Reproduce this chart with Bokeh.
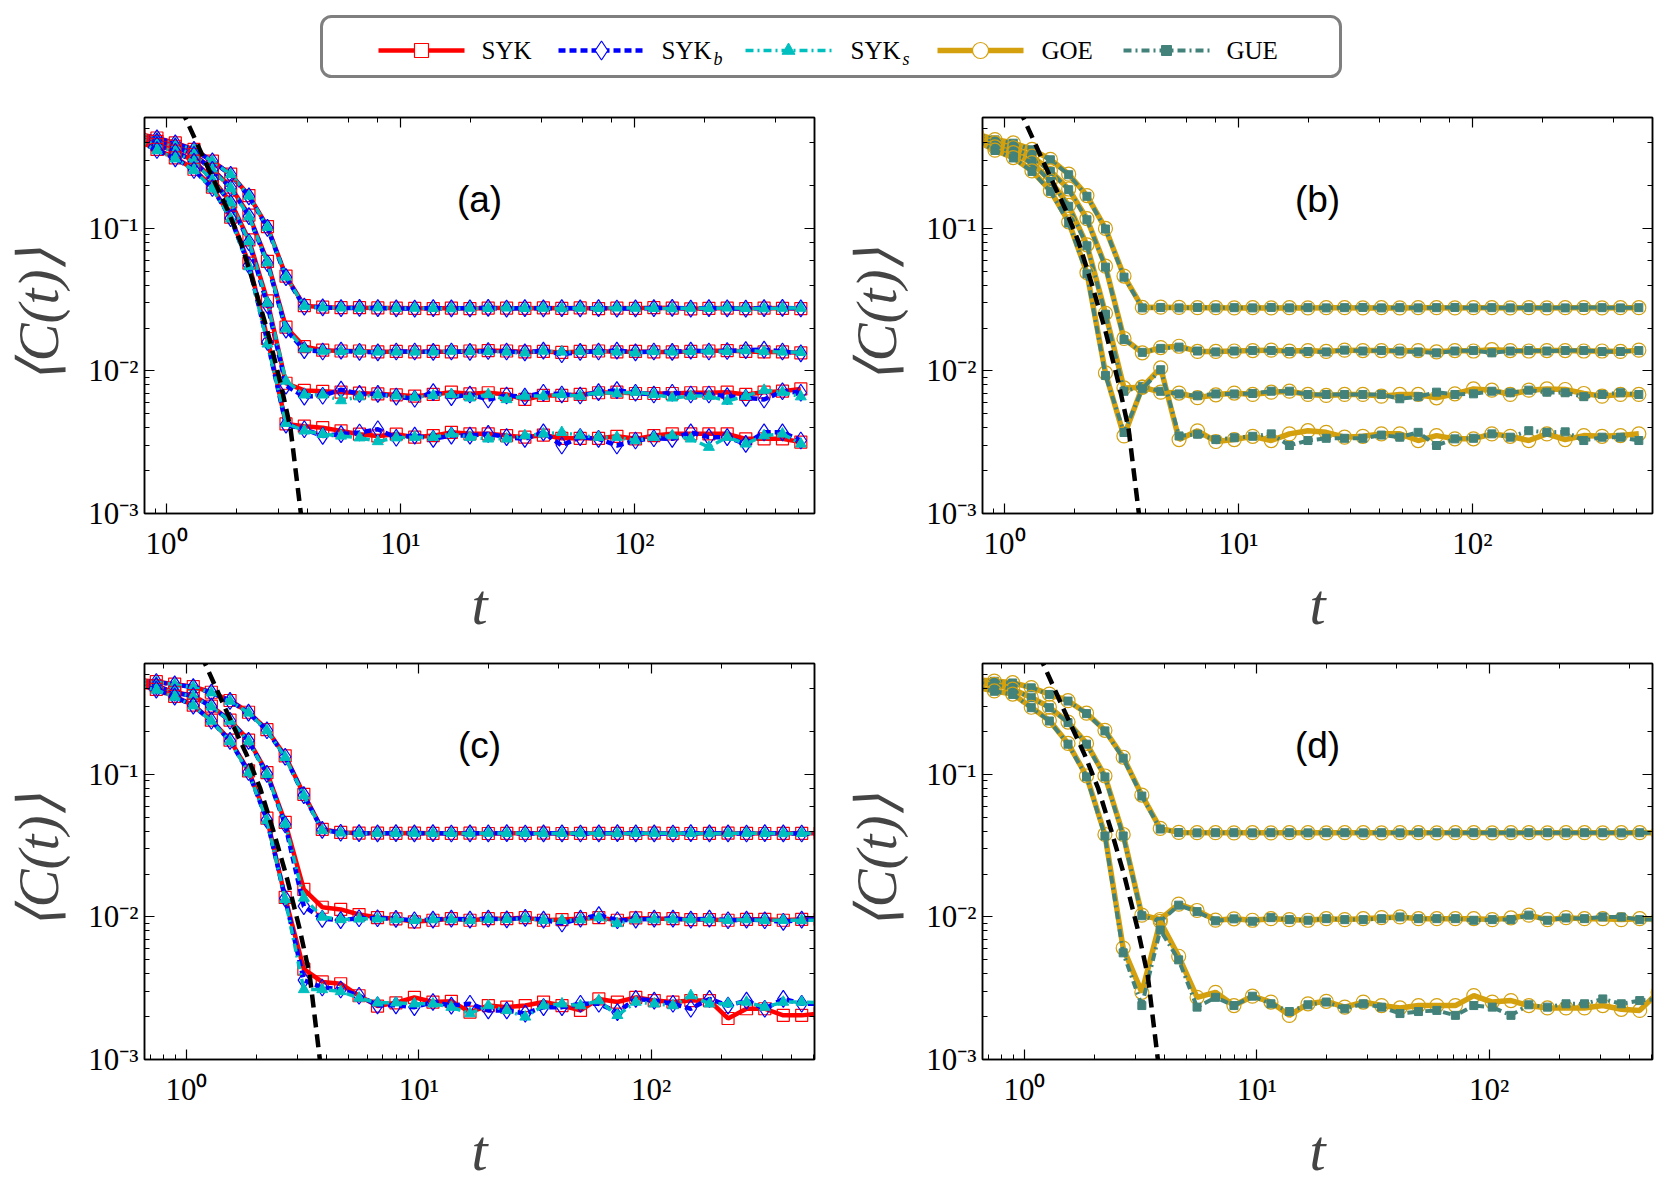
import numpy as np
from bokeh.plotting import figure
from bokeh.models import Range1d, LogAxis, CustomJSTickFormatter, Label, BoxAnnotation
from bokeh.layouts import column, row
from bokeh.embed import file_html
from bokeh.resources import INLINE

# ---------------- data ----------------
T_AB = [0.76, 0.91, 1.09, 1.31, 1.57, 1.88, 2.25, 2.70, 3.24, 3.88, 4.65, 5.57, 6.68, 8.00, 9.59,
        11.5, 13.8, 16.5, 19.8, 23.7, 28.4, 34.0, 40.8, 48.9, 58.6, 70.2, 84.1, 101, 121, 145,
        174, 208, 249, 299, 358, 429, 514]
T_CD = [0.62, 0.742, 0.89, 1.07, 1.28, 1.54, 1.85, 2.22, 2.66, 3.20, 3.84, 4.61, 5.53, 6.64, 7.97,
        9.57, 11.5, 13.8, 16.6, 19.9, 23.9, 28.7, 34.4, 41.3, 49.6, 59.5, 71.5, 85.8, 103, 124,
        148, 178, 214, 257, 308, 370, 444, 533]

# panel (a): SYK, SYK_b, SYK_s for four system sizes
A1_SYK = [0.46, 0.431, 0.398, 0.358, 0.297, 0.240, 0.170, 0.103, 0.0463, 0.0287, 0.0280, 0.0278, 0.0278, 0.0277, 0.0276,
          0.0275, 0.0274, 0.0276, 0.0274, 0.0276, 0.0276, 0.0275, 0.0277, 0.0275, 0.0277, 0.0274, 0.0276, 0.0275, 0.0278,
          0.0276, 0.0273, 0.0275, 0.0276, 0.0274, 0.0276, 0.0275, 0.0274]
A1_SYKB = [0.46, 0.428, 0.396, 0.356, 0.296, 0.238, 0.168, 0.101, 0.0455, 0.0283, 0.0279, 0.0276, 0.0277, 0.0276, 0.0275,
           0.0274, 0.0276, 0.0275, 0.0275, 0.0277, 0.0274, 0.0276, 0.0275, 0.0276, 0.0275, 0.0276, 0.0274, 0.0275, 0.0276,
           0.0277, 0.0274, 0.0276, 0.0275, 0.0274, 0.0276, 0.0277, 0.0275]
A1_SYKS = [0.46, 0.425, 0.394, 0.355, 0.295, 0.239, 0.169, 0.102, 0.0458, 0.0285, 0.0278, 0.0277, 0.0276, 0.0278, 0.0275,
           0.0276, 0.0275, 0.0274, 0.0276, 0.0275, 0.0277, 0.0275, 0.0276, 0.0274, 0.0276, 0.0275, 0.0277, 0.0276, 0.0275,
           0.0274, 0.0276, 0.0275, 0.0277, 0.0275, 0.0274, 0.0276, 0.0276]
A2_SYK = [0.445, 0.408, 0.377, 0.330, 0.260, 0.195, 0.124, 0.0587, 0.0203, 0.0148, 0.0140, 0.0138, 0.0138, 0.0136, 0.0137,
          0.0136, 0.0137, 0.0136, 0.0138, 0.0139, 0.0138, 0.0136, 0.0137, 0.0135, 0.0137, 0.0138, 0.0136, 0.0137, 0.0136,
          0.0136, 0.0137, 0.0138, 0.0139, 0.0137, 0.0136, 0.0136, 0.0134]
A2_SYKB = [0.445, 0.405, 0.374, 0.328, 0.258, 0.193, 0.122, 0.0570, 0.0195, 0.0140, 0.0137, 0.0139, 0.0136, 0.0135, 0.0137,
           0.0137, 0.0136, 0.0137, 0.0136, 0.0138, 0.0137, 0.0135, 0.0139, 0.0131, 0.0136, 0.0137, 0.0139, 0.0135, 0.0137,
           0.0136, 0.0139, 0.0137, 0.0138, 0.0140, 0.0141, 0.0137, 0.0133]
A2_SYKS = [0.445, 0.403, 0.372, 0.327, 0.257, 0.192, 0.121, 0.0575, 0.0198, 0.0143, 0.0138, 0.0137, 0.0138, 0.0136, 0.0136,
           0.0136, 0.0136, 0.0138, 0.0137, 0.0137, 0.0136, 0.0134, 0.0138, 0.0136, 0.0137, 0.0137, 0.0136, 0.0134, 0.0137,
           0.0136, 0.0137, 0.0138, 0.0137, 0.0139, 0.0137, 0.0136, 0.0135]
A3_SYK = [0.43, 0.387, 0.348, 0.297, 0.222, 0.153, 0.083, 0.031, 0.0082, 0.0073, 0.0072, 0.0071, 0.0070, 0.0069, 0.0068,
          0.00666, 0.00684, 0.00710, 0.00691, 0.00703, 0.00684, 0.00631, 0.00673, 0.00673, 0.00684, 0.00703, 0.00710,
          0.00695, 0.00695, 0.00695, 0.00703, 0.00703, 0.00710, 0.00684, 0.00710, 0.00721, 0.00748]
A3_SYKB = [0.43, 0.384, 0.345, 0.294, 0.220, 0.150, 0.080, 0.029, 0.0079, 0.0066, 0.0067, 0.0074, 0.0069, 0.0069, 0.0066,
           0.00638, 0.00710, 0.00655, 0.00684, 0.00631, 0.00673, 0.00660, 0.00703, 0.00684, 0.00673, 0.00710, 0.00733,
           0.00703, 0.00684, 0.00703, 0.00684, 0.00684, 0.00666, 0.00648, 0.00631, 0.00721, 0.00703]
A3_SYKS = [0.43, 0.382, 0.343, 0.292, 0.219, 0.151, 0.081, 0.030, 0.0085, 0.0068, 0.0068, 0.0062, 0.0066, 0.0068, 0.0067,
           0.00655, 0.00673, 0.00684, 0.00648, 0.00684, 0.00631, 0.00666, 0.00666, 0.00684, 0.00666, 0.00710, 0.00695,
           0.00710, 0.00684, 0.00648, 0.00666, 0.00666, 0.00615, 0.00666, 0.00733, 0.00710, 0.00660]
A4_SYK = [0.41, 0.358, 0.313, 0.260, 0.195, 0.120, 0.057, 0.0169, 0.00425, 0.0041, 0.0040, 0.0038, 0.0036, 0.0035, 0.0036,
          0.00343, 0.00352, 0.00371, 0.00362, 0.00362, 0.00352, 0.00343, 0.00355, 0.00337, 0.00337, 0.00337, 0.00348,
          0.00334, 0.00352, 0.00362, 0.00362, 0.00362, 0.00362, 0.00334, 0.00334, 0.00334, 0.00317]
A4_SYKB = [0.41, 0.355, 0.310, 0.257, 0.192, 0.118, 0.055, 0.0160, 0.0042, 0.0039, 0.0035, 0.0036, 0.0037, 0.0039, 0.0034,
           0.00352, 0.00334, 0.00352, 0.00352, 0.00362, 0.00343, 0.00334, 0.00371, 0.00300, 0.00343, 0.00334, 0.00300,
           0.00325, 0.00337, 0.00334, 0.00371, 0.00343, 0.00343, 0.00308, 0.00371, 0.00371, 0.00325]
A4_SYKS = [0.41, 0.352, 0.308, 0.256, 0.190, 0.117, 0.054, 0.0155, 0.0043, 0.0038, 0.0036, 0.0035, 0.0034, 0.0032, 0.0034,
           0.00343, 0.00343, 0.00362, 0.00343, 0.00334, 0.00334, 0.00352, 0.00362, 0.00371, 0.00352, 0.00343, 0.00343,
           0.00325, 0.00343, 0.00352, 0.00334, 0.00292, 0.00343, 0.00308, 0.00352, 0.00362, 0.00308]

# panel (b): GOE, GUE
B1_GOE = [0.46, 0.420, 0.398, 0.358, 0.305, 0.240, 0.170, 0.100, 0.0463, 0.0279, 0.0280, 0.0279, 0.0278, 0.0278, 0.0277,
          0.0278, 0.0277, 0.0278, 0.0277, 0.0278, 0.0278, 0.0277, 0.0278, 0.0277, 0.0278, 0.0278, 0.0277, 0.0278, 0.0278,
          0.0277, 0.0278, 0.0277, 0.0278, 0.0278, 0.0277, 0.0278, 0.0278]
B1_GUE = [0.46, 0.418, 0.396, 0.356, 0.303, 0.238, 0.168, 0.099, 0.0455, 0.0277, 0.0279, 0.0277, 0.0279, 0.0277, 0.0278,
          0.0277, 0.0279, 0.0277, 0.0278, 0.0277, 0.0278, 0.0279, 0.0277, 0.0278, 0.0277, 0.0278, 0.0279, 0.0277, 0.0278,
          0.0277, 0.0278, 0.0278, 0.0277, 0.0279, 0.0278, 0.0277, 0.0278]
B2_GOE = [0.445, 0.398, 0.368, 0.322, 0.253, 0.189, 0.117, 0.0543, 0.0169, 0.0134, 0.0146, 0.0149, 0.0137, 0.0137, 0.0138,
          0.0139, 0.0140, 0.0138, 0.0139, 0.0137, 0.0140, 0.0139, 0.0139, 0.0138, 0.0139, 0.0136, 0.0139, 0.0138, 0.0141,
          0.0139, 0.0138, 0.0139, 0.0139, 0.0138, 0.0138, 0.0137, 0.0140]
B2_GUE = [0.445, 0.396, 0.366, 0.320, 0.251, 0.187, 0.115, 0.0535, 0.0166, 0.0135, 0.0144, 0.0147, 0.0138, 0.0136, 0.0138,
          0.0139, 0.0139, 0.0137, 0.0137, 0.0136, 0.0140, 0.0138, 0.0139, 0.0138, 0.0136, 0.0134, 0.0138, 0.0139, 0.0134,
          0.0138, 0.0139, 0.0138, 0.0139, 0.0139, 0.0137, 0.0137, 0.0139]
B3_GOE = [0.43, 0.373, 0.340, 0.289, 0.216, 0.145, 0.0767, 0.0254, 0.0076, 0.0077, 0.0071, 0.0070, 0.0065, 0.0068, 0.0070,
          0.00684, 0.00710, 0.00721, 0.00684, 0.00673, 0.00684, 0.00684, 0.00666, 0.00684, 0.00684, 0.00648, 0.00691,
          0.00748, 0.00733, 0.00684, 0.00733, 0.00748, 0.00741, 0.00695, 0.00666, 0.00684, 0.00684]
B3_GUE = [0.43, 0.371, 0.338, 0.287, 0.214, 0.143, 0.0755, 0.0250, 0.0072, 0.0078, 0.0072, 0.0069, 0.0067, 0.0069, 0.0069,
          0.00695, 0.00721, 0.00721, 0.00684, 0.00684, 0.00684, 0.00684, 0.00684, 0.00638, 0.00660, 0.00710, 0.00684,
          0.00691, 0.00721, 0.00703, 0.00733, 0.00710, 0.00703, 0.00660, 0.00684, 0.00703, 0.00684]
B4_GOE = [0.41, 0.354, 0.314, 0.253, 0.184, 0.111, 0.0489, 0.00968, 0.0035, 0.0077, 0.0105, 0.0033, 0.0038, 0.0032, 0.0033,
          0.00348, 0.00325, 0.00362, 0.00381, 0.00371, 0.00343, 0.00348, 0.00362, 0.00362, 0.00325, 0.00352, 0.00334,
          0.00334, 0.00362, 0.00348, 0.00325, 0.00362, 0.00330, 0.00352, 0.00348, 0.00352, 0.00362]
B4_GUE = [0.41, 0.352, 0.312, 0.251, 0.182, 0.109, 0.0480, 0.0093, 0.0037, 0.0075, 0.0102, 0.0035, 0.0036, 0.0033, 0.0034,
          0.00348, 0.00362, 0.00300, 0.00325, 0.00337, 0.00337, 0.00337, 0.00355, 0.00343, 0.00371, 0.00300, 0.00334,
          0.00337, 0.00362, 0.00343, 0.00381, 0.00371, 0.00374, 0.00325, 0.00343, 0.00343, 0.00325]

# panel (c): SYK, SYK_b, SYK_s for three system sizes
C1_SYK = [0.46, 0.447, 0.430, 0.413, 0.377, 0.330, 0.273, 0.206, 0.135, 0.0725, 0.0412, 0.0392, 0.0388, 0.0387, 0.0386,
          0.0388, 0.0386, 0.0386, 0.0387, 0.0385, 0.0386, 0.0386, 0.0387, 0.0385, 0.0386, 0.0386, 0.0386, 0.0385, 0.0387,
          0.0386, 0.0385, 0.0386, 0.0387, 0.0386, 0.0385, 0.0386, 0.0386, 0.0386]
C1_SYKB = [0.46, 0.445, 0.428, 0.410, 0.375, 0.328, 0.271, 0.204, 0.133, 0.0715, 0.0408, 0.0390, 0.0387, 0.0386, 0.0387,
           0.0386, 0.0387, 0.0385, 0.0386, 0.0386, 0.0387, 0.0385, 0.0386, 0.0386, 0.0385, 0.0386, 0.0387, 0.0386, 0.0386,
           0.0385, 0.0387, 0.0386, 0.0386, 0.0385, 0.0387, 0.0386, 0.0385, 0.0386]
C1_SYKS = [0.46, 0.443, 0.426, 0.409, 0.374, 0.327, 0.270, 0.203, 0.132, 0.0710, 0.0405, 0.0389, 0.0386, 0.0387, 0.0386,
           0.0387, 0.0386, 0.0386, 0.0385, 0.0387, 0.0386, 0.0386, 0.0385, 0.0386, 0.0387, 0.0386, 0.0385, 0.0386, 0.0387,
           0.0386, 0.0386, 0.0385, 0.0386, 0.0387, 0.0386, 0.0385, 0.0386, 0.0386]
C2_SYK = [0.44, 0.418, 0.377, 0.357, 0.301, 0.240, 0.174, 0.103, 0.0461, 0.0156, 0.0117, 0.0113, 0.0104, 0.0099, 0.0097,
          0.00924, 0.00948, 0.00973, 0.00948, 0.00973, 0.00973, 0.00989, 0.00948, 0.00958, 0.00973, 0.00989, 0.00948,
          0.00984, 0.00973, 0.00973, 0.00958, 0.00958, 0.00948, 0.00963, 0.00963, 0.00948, 0.00963, 0.00963]
C2_SYKB = [0.44, 0.416, 0.375, 0.355, 0.299, 0.238, 0.172, 0.101, 0.0445, 0.0119, 0.0097, 0.0095, 0.0098, 0.0098, 0.0097,
           0.00948, 0.00958, 0.00973, 0.00958, 0.00973, 0.00963, 0.00984, 0.00958, 0.00900, 0.00973, 0.01030, 0.00948,
           0.00958, 0.00973, 0.00973, 0.00958, 0.00973, 0.00948, 0.00958, 0.00948, 0.00924, 0.00958, 0.00958]
C2_SYKS = [0.44, 0.414, 0.373, 0.353, 0.298, 0.237, 0.171, 0.100, 0.0450, 0.0136, 0.0100, 0.0096, 0.0097, 0.0097, 0.0096,
           0.00948, 0.00958, 0.00958, 0.00948, 0.00963, 0.00963, 0.00973, 0.00948, 0.00948, 0.00958, 0.00989, 0.00900,
           0.00958, 0.00958, 0.00958, 0.00958, 0.00958, 0.00948, 0.00958, 0.00948, 0.00948, 0.00948, 0.00948]
C3_SYK = [0.42, 0.395, 0.353, 0.306, 0.240, 0.174, 0.106, 0.0493, 0.0137, 0.0043, 0.0035, 0.0034, 0.0028, 0.00237, 0.0025,
          0.00273, 0.00253, 0.00256, 0.00215, 0.00239, 0.00233, 0.00239, 0.00253, 0.00239, 0.00221, 0.00266, 0.00253,
          0.00273, 0.00259, 0.00253, 0.00259, 0.00259, 0.00194, 0.00227, 0.00227, 0.00204, 0.00204, 0.00210]
C3_SYKB = [0.42, 0.393, 0.351, 0.304, 0.238, 0.172, 0.104, 0.0480, 0.0135, 0.0036, 0.0032, 0.0031, 0.0028, 0.0024, 0.0024,
           0.00233, 0.00253, 0.00239, 0.00246, 0.00221, 0.00221, 0.00210, 0.00233, 0.00233, 0.00246, 0.00246, 0.00215,
           0.00266, 0.00259, 0.00246, 0.00227, 0.00266, 0.00239, 0.00259, 0.00227, 0.00266, 0.00246, 0.00246]
C3_SYKS = [0.42, 0.391, 0.349, 0.303, 0.237, 0.171, 0.103, 0.0475, 0.0133, 0.0031, 0.0031, 0.0030, 0.0027, 0.0025, 0.0025,
           0.00246, 0.00246, 0.00233, 0.00210, 0.00239, 0.00221, 0.00199, 0.00239, 0.00246, 0.00239, 0.00259, 0.00204,
           0.00253, 0.00246, 0.00239, 0.00281, 0.00246, 0.00246, 0.00253, 0.00233, 0.00253, 0.00253, 0.00250]

# panel (d): GOE, GUE
D1_GOE = [0.46, 0.452, 0.440, 0.407, 0.366, 0.329, 0.269, 0.204, 0.132, 0.0716, 0.0418, 0.0392, 0.0390, 0.0390, 0.0389,
          0.0390, 0.0389, 0.0390, 0.0390, 0.0389, 0.0390, 0.0390, 0.0389, 0.0390, 0.0390, 0.0389, 0.0390, 0.0390, 0.0389,
          0.0390, 0.0390, 0.0389, 0.0390, 0.0390, 0.0389, 0.0390, 0.0390, 0.0390]
D1_GUE = [0.46, 0.450, 0.438, 0.405, 0.364, 0.327, 0.267, 0.202, 0.130, 0.0705, 0.0414, 0.0391, 0.0389, 0.0390, 0.0390,
          0.0389, 0.0390, 0.0390, 0.0389, 0.0390, 0.0390, 0.0389, 0.0390, 0.0389, 0.0390, 0.0390, 0.0389, 0.0390, 0.0390,
          0.0389, 0.0390, 0.0390, 0.0389, 0.0390, 0.0390, 0.0389, 0.0390, 0.0390]
D2_GOE = [0.44, 0.429, 0.396, 0.347, 0.296, 0.233, 0.165, 0.0975, 0.0379, 0.0103, 0.0096, 0.0123, 0.0111, 0.0095, 0.0097,
          0.00948, 0.00973, 0.00958, 0.00948, 0.00973, 0.00958, 0.00973, 0.00989, 0.01000, 0.00973, 0.00973, 0.00973,
          0.00973, 0.00958, 0.00984, 0.01030, 0.00958, 0.00989, 0.00973, 0.00973, 0.00958, 0.00973, 0.00973]
D2_GUE = [0.44, 0.427, 0.394, 0.345, 0.294, 0.231, 0.163, 0.0960, 0.0370, 0.0102, 0.0093, 0.0121, 0.0109, 0.0094, 0.0097,
          0.00933, 0.00989, 0.00958, 0.00948, 0.00973, 0.00958, 0.00958, 0.00973, 0.01000, 0.00973, 0.00973, 0.00973,
          0.00948, 0.00958, 0.00958, 0.01030, 0.00948, 0.00984, 0.00973, 0.01000, 0.01000, 0.00958, 0.00958]
D3_GOE = [0.41, 0.385, 0.366, 0.296, 0.239, 0.165, 0.0975, 0.0379, 0.00605, 0.00296, 0.0093, 0.0053, 0.00273, 0.00296, 0.00239,
          0.00278, 0.00253, 0.00204, 0.00246, 0.00256, 0.00233, 0.00253, 0.00239, 0.00230, 0.00239, 0.00239, 0.00239,
          0.00281, 0.00253, 0.00259, 0.00239, 0.00230, 0.00230, 0.00230, 0.00239, 0.00225, 0.00221, 0.00296]
D3_GUE = [0.41, 0.383, 0.364, 0.294, 0.237, 0.163, 0.0960, 0.0370, 0.0056, 0.00239, 0.0081, 0.0050, 0.00233, 0.00273, 0.00239,
          0.00278, 0.00246, 0.00217, 0.00242, 0.00253, 0.00227, 0.00246, 0.00233, 0.00210, 0.00217, 0.00221, 0.00204,
          0.00239, 0.00233, 0.00204, 0.00242, 0.00233, 0.00246, 0.00246, 0.00266, 0.00246, 0.00259, 0.00266]

# black dashed reference curve (same in all panels)
DASH_T = [1.15, 1.206, 1.493, 1.817, 2.071, 2.361, 2.694, 3.07, 3.39, 3.74, 3.80]
DASH_C = [0.70, 0.593, 0.274, 0.137, 0.0809, 0.0406, 0.0193, 0.00824, 0.00392, 0.00104, 0.00080]

XRANGE_AB = (0.805, 588.0)
XRANGE_CD = (0.66, 504.0)
YRANGE = (1e-3, 0.6)

# ---------------- styles ----------------
STYLE = {
    "SYK":  dict(color="#ff0000", width=4.5, dash="solid", marker="square", size=12, filled=False),
    "SYKb": dict(color="#0000ff", width=4.5, dash="7 4", marker="diamond", size=17, filled=False),
    "SYKs": dict(color="#00bfbf", width=3.5, dash="8 4 2 4", marker="triangle", size=11, filled=True),
    "GOE":  dict(color="#d4a00e", width=5.5, dash="solid", marker="circle", size=14, filled=False),
    "GUE":  dict(color="#43827a", width=4.0, dash="8 4 2 4", marker="square", size=8, filled=True),
}

SERIF = "Liberation Serif"
SUP_JS = """
const e = Math.round(Math.log10(tick));
const m = {'-':'\u207b','0':'\u2070','1':'\u00b9','2':'\u00b2','3':'\u00b3','4':'\u2074','5':'\u2075','6':'\u2076','7':'\u2077','8':'\u2078','9':'\u2079'};
return '10' + String(e).split('').map(c => m[c]).join('');
"""


def draw_series(p, t, vals, key):
    s = STYLE[key]
    p.line(t, vals, line_color=s["color"], line_width=s["width"], line_dash=s["dash"])
    if s["filled"]:
        p.scatter(t, vals, marker=s["marker"], size=s["size"], fill_color=s["color"],
                  line_color=s["color"], line_width=1)
    else:
        p.scatter(t, vals, marker=s["marker"], size=s["size"], fill_color=None,
                  line_color=s["color"], line_width=1.2)


def style_axis(ax, labels=True):
    ax.major_tick_in = 10
    ax.major_tick_out = 0
    ax.minor_tick_in = 5
    ax.minor_tick_out = 0
    ax.major_tick_line_color = "black"
    ax.minor_tick_line_color = "black"
    ax.major_tick_line_width = 1.2
    ax.minor_tick_line_width = 1.0
    ax.axis_line_color = "black"
    ax.axis_line_width = 1.5
    if labels:
        ax.formatter = CustomJSTickFormatter(code=SUP_JS)
        ax.major_label_text_font = SERIF
        ax.major_label_text_font_size = "31px"
        ax.major_label_text_color = "black"
    else:
        ax.formatter = CustomJSTickFormatter(code="return '';")
        ax.major_label_text_font_size = "0px"
        ax.major_label_standoff = 0


def make_panel(t, groups, xr, tag, width, left_border, right_border):
    p = figure(width=width, height=546, x_axis_type="log", y_axis_type="log",
               x_range=Range1d(*xr), y_range=Range1d(*YRANGE),
               output_backend="svg", toolbar_location=None,
               min_border_left=left_border, min_border_right=right_border,
               min_border_top=24, min_border_bottom=120)
    p.xgrid.visible = False
    p.ygrid.visible = False
    p.outline_line_color = "black"
    p.outline_line_width = 1.5
    style_axis(p.xaxis[0])
    style_axis(p.yaxis[0])
    p.xaxis[0].major_label_standoff = 12
    p.yaxis[0].major_label_standoff = 6
    p.xaxis[0].axis_label = "t"
    p.xaxis[0].axis_label_text_font = SERIF
    p.xaxis[0].axis_label_text_font_style = "italic"
    p.xaxis[0].axis_label_text_font_size = "58px"
    p.xaxis[0].axis_label_standoff = 8
    p.yaxis[0].axis_label = "\u27e8C(t)\u27e9"
    p.yaxis[0].axis_label_text_font = SERIF
    p.yaxis[0].axis_label_text_font_style = "italic"
    p.yaxis[0].axis_label_text_font_size = "57px"
    p.yaxis[0].axis_label_standoff = 15
    ra = LogAxis()
    style_axis(ra, labels=False)
    p.add_layout(ra, "right")
    ta = LogAxis()
    style_axis(ta, labels=False)
    p.add_layout(ta, "above")
    for group in groups:
        for key, vals in group:
            draw_series(p, t, vals, key)
    p.line(DASH_T, DASH_C, line_color="black", line_width=4.5, line_dash="13 7")
    p.add_layout(Label(x=float(np.sqrt(xr[0] * xr[1])), y=0.16, text=tag, text_align="center",
                       text_baseline="middle", text_font="Liberation Sans", text_font_size="37px",
                       text_color="black"))
    return p


pa = make_panel(T_AB, [
    [("SYK", A1_SYK), ("SYKb", A1_SYKB), ("SYKs", A1_SYKS)],
    [("SYK", A2_SYK), ("SYKb", A2_SYKB), ("SYKs", A2_SYKS)],
    [("SYK", A3_SYK), ("SYKb", A3_SYKB), ("SYKs", A3_SYKS)],
    [("SYK", A4_SYK), ("SYKb", A4_SYKB), ("SYKs", A4_SYKS)],
], XRANGE_AB, "(a)", 841, 144, 27)
pb = make_panel(T_AB, [
    [("GOE", B1_GOE), ("GUE", B1_GUE)],
    [("GOE", B2_GOE), ("GUE", B2_GUE)],
    [("GOE", B3_GOE), ("GUE", B3_GUE)],
    [("GOE", B4_GOE), ("GUE", B4_GUE)],
], XRANGE_AB, "(b)", 820, 141, 9)
pc = make_panel(T_CD, [
    [("SYK", C1_SYK), ("SYKb", C1_SYKB), ("SYKs", C1_SYKS)],
    [("SYK", C2_SYK), ("SYKb", C2_SYKB), ("SYKs", C2_SYKS)],
    [("SYK", C3_SYK), ("SYKb", C3_SYKB), ("SYKs", C3_SYKS)],
], XRANGE_CD, "(c)", 841, 144, 27)
pd_ = make_panel(T_CD, [
    [("GOE", D1_GOE), ("GUE", D1_GUE)],
    [("GOE", D2_GOE), ("GUE", D2_GUE)],
    [("GOE", D3_GOE), ("GUE", D3_GUE)],
], XRANGE_CD, "(d)", 820, 141, 9)

# ---------------- legend strip ----------------
LEG_W, LEG_H = 1661, 93
lg = figure(width=LEG_W, height=LEG_H, x_range=Range1d(0, LEG_W), y_range=Range1d(0, LEG_H),
            output_backend="svg", toolbar_location=None, min_border=0,
            x_axis_location=None, y_axis_location=None)
lg.grid.visible = False
lg.outline_line_color = None
lg.add_layout(BoxAnnotation(left=321, right=1340, bottom=17, top=77, fill_color=None,
                            line_color="#7f7f7f", line_alpha=1.0, line_width=3, border_radius=10))
LEG_KEYS = ["SYK", "SYKb", "SYKs", "GOE", "GUE"]
LEG_TEXT = [("SYK", ""), ("SYK", "b"), ("SYK", "s"), ("GOE", ""), ("GUE", "")]
LEG_X0 = [378, 558, 745, 937, 1123]
LEG_TX = [481, 661, 850, 1041, 1226]
YC = 43
for key, (txt, sub), x0, tx in zip(LEG_KEYS, LEG_TEXT, LEG_X0, LEG_TX):
    s = STYLE[key]
    lg.line([x0, x0 + 86], [YC, YC], line_color=s["color"], line_width=s["width"], line_dash=s["dash"])
    if s["filled"]:
        lg.scatter([x0 + 43], [YC], marker=s["marker"], size=s["size"] + 2, fill_color=s["color"],
                   line_color=s["color"])
    else:
        lg.scatter([x0 + 43], [YC], marker=s["marker"], size=s["size"] + 2, fill_color="white",
                   line_color=s["color"], line_width=1.2)
    lg.add_layout(Label(x=tx, y=YC, text=txt, text_baseline="middle", text_font=SERIF,
                        text_font_size="25px", text_color="black"))
    if sub:
        lg.add_layout(Label(x=tx + 52, y=YC - 8, text=sub, text_baseline="middle", text_font=SERIF,
                            text_font_style="italic", text_font_size="18px", text_color="black"))

layout = column(lg, row(pa, pb), row(pc, pd_))
open("out.html", "w").write(file_html(layout, INLINE))
